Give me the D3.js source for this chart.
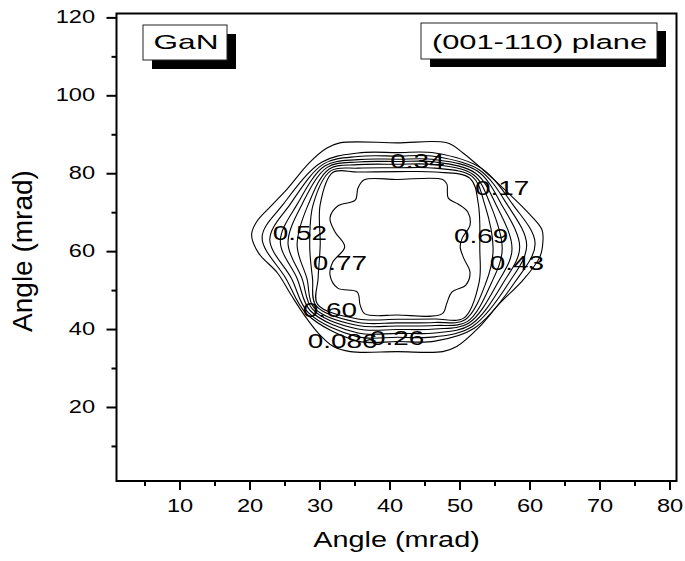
<!DOCTYPE html>
<html>
<head>
<meta charset="utf-8">
<script src="https://cdn.jsdelivr.net/npm/d3@7"></script>
<style>
  body { margin: 0; background: #fff; }
  svg text { font-family: "Liberation Sans", Arial, Helvetica, sans-serif; fill: #000; }
</style>
</head>
<body>
<svg id="chart" width="685" height="561"></svg>
<script>
// Contour levels of the angular distribution, outermost first
const levels = [0.086, 0.17, 0.26, 0.34, 0.43, 0.52, 0.60, 0.69, 0.77];

// Each contour is a closed ring of [x angle, y angle] in mrad
const c086 = [[41.1,87.8],[48.2,87.8],[50.5,85.2],[53.4,80.8],[56.8,75.2],[60.1,69.3],[61.8,65.4],[61.9,62.1],[61.5,58.6],[59.1,52.6],[55.8,46.7],[52.7,40.3],[49.6,35.5],[47.6,34.2],[41.1,34.2],[34.4,34.2],[32.0,35.5],[29.8,39.0],[27.9,43.4],[26.0,48.6],[24.0,54.4],[21.3,59.5],[20.3,64.2],[21.0,67.5],[23.3,72.0],[25.4,76.0],[28.5,82.6],[31.0,86.4],[32.9,87.8]];
const c017 = [[41.1,85.3],[46.5,85.2],[53.1,81.3],[57.6,72.0],[60.8,62.0],[57.9,52.0],[52.1,40.2],[46.5,36.9],[41.1,36.8],[35.5,36.9],[28.2,43.8],[25.2,53.0],[21.8,63.5],[24.8,72.0],[30.3,82.8],[35.5,85.2]];
const c026 = [[41.1,84.4],[46.5,84.3],[52.8,80.9],[56.8,72.0],[59.6,61.5],[57.1,52.0],[51.8,40.6],[46.5,38.0],[41.1,37.9],[35.5,38.0],[28.4,44.2],[26.0,53.0],[22.9,63.0],[25.8,72.0],[30.6,82.4],[35.5,84.3]];
const c034 = [[41.1,83.6],[46.5,83.5],[52.6,80.5],[56.0,72.0],[58.6,61.0],[56.3,52.0],[51.6,41.1],[46.5,39.0],[41.1,38.9],[35.5,39.0],[28.7,44.7],[26.8,53.0],[24.4,62.5],[26.8,72.0],[30.8,81.9],[35.5,83.5]];
const c043 = [[41.1,83.0],[46.5,82.9],[52.3,80.0],[55.2,72.0],[57.5,60.5],[55.5,52.0],[51.3,41.5],[46.5,40.0],[41.1,39.9],[35.5,40.0],[29.0,45.1],[27.5,53.0],[25.5,62.0],[27.5,72.0],[31.1,81.5],[35.5,82.9]];
const c052 = [[41.1,82.3],[46.5,82.2],[52.0,79.6],[54.4,72.0],[56.1,60.5],[54.6,52.0],[51.1,41.9],[46.5,40.9],[41.1,40.8],[35.5,40.9],[29.2,45.5],[28.2,53.0],[26.8,61.5],[28.4,72.0],[31.4,81.1],[35.5,82.2]];
const c060 = [[41.1,81.4],[46.5,81.3],[51.8,79.2],[53.6,72.0],[54.8,60.5],[53.8,52.0],[50.8,42.4],[46.5,41.7],[41.1,41.6],[35.5,41.7],[29.5,46.0],[29.0,53.0],[28.6,61.5],[29.1,72.0],[31.6,80.6],[35.5,81.3]];
const c069 = [[41.1,80.4],[46.5,80.3],[51.5,78.7],[52.7,72.0],[52.9,60.5],[52.8,52.0],[50.6,42.8],[46.5,42.6],[41.1,42.5],[35.5,42.6],[29.7,46.4],[29.8,53.0],[30.1,61.5],[30.1,72.0],[31.9,80.2],[35.5,80.3]];
const c077 = [[41.1,78.4],[47.6,78.4],[48.2,77.2],[48.4,73.6],[49.8,72.1],[51.2,70.0],[51.5,66.7],[50.4,63.4],[50.1,61.1],[50.6,58.2],[51.5,54.6],[50.9,51.3],[48.9,49.5],[48.2,46.7],[47.5,43.9],[41.1,43.6],[36.5,43.9],[35.8,46.2],[35.4,49.5],[32.6,50.5],[31.5,53.9],[31.9,57.2],[33.6,61.1],[32.2,65.0],[31.5,68.5],[32.6,71.6],[35.1,73.1],[35.5,76.2],[36.4,78.3]];
const contourRings = [c086, c017, c026, c034, c043, c052, c060, c069, c077];

// Level labels placed on their lines (mrad)
const labelLevels = [0.34, 0.17, 0.52, 0.69, 0.77, 0.43, 0.60, 0.086, 0.26];
const labelX      = [44.0, 56.1, 27.2, 53.1, 32.9, 58.2, 31.5, 33.3, 41.1];
const labelY      = [83.2, 76.2, 64.7, 64.0, 56.9, 56.9, 44.9, 37.0, 37.7];

// Axes
const xDomain = [1, 81];
const yDomain = [1, 121];
const xMajorTicks = [10, 20, 30, 40, 50, 60, 70, 80];
const xMinorTicks = [5, 15, 25, 35, 45, 55, 65, 75];
const yMajorTicks = [20, 40, 60, 80, 100, 120];
const yMinorTicks = [10, 30, 50, 70, 90, 110];
const xTitle = "Angle (mrad)";
const yTitle = "Angle (mrad)";
const materialTag = "GaN";
const planeTag = "(001-110) plane";

const svg = d3.select("#chart");
const plot = { left: 116.5, right: 676.5, top: 13.5, bottom: 481 };

const x = d3.scaleLinear().domain(xDomain).range([plot.left, plot.right]);
const y = d3.scaleLinear().domain(yDomain).range([plot.bottom, plot.top]);

// Contour lines
const ring = d3.line()
  .x(d => x(d[0]))
  .y(d => y(d[1]))
  .curve(d3.curveCatmullRomClosed.alpha(0.5));

svg.append("g")
  .selectAll("path")
  .data(contourRings)
  .join("path")
  .attr("d", ring)
  .attr("fill", "none")
  .attr("stroke", "#000")
  .attr("stroke-width", 1.1);

// Contour level labels
const fmt = v => (v === 0.086 ? "0.086" : v.toFixed(2));
svg.append("g")
  .selectAll("text")
  .data(labelLevels)
  .join("text")
  .attr("text-anchor", "middle")
  .attr("font-size", 19.5)
  .attr("transform", (d, i) => `translate(${x(labelX[i])},${y(labelY[i]) + 7}) scale(1.43,1)`)
  .text(d => fmt(d));

// Axes: major and minor ticks
const stretch = 1.35;
const xAxis = svg.append("g")
  .attr("transform", `translate(0,${plot.bottom})`)
  .call(d3.axisBottom(x).tickValues(xMajorTicks).tickSize(9).tickSizeOuter(0).tickPadding(9.6));
svg.append("g")
  .attr("transform", `translate(0,${plot.bottom})`)
  .call(d3.axisBottom(x).tickValues(xMinorTicks).tickSize(5).tickSizeOuter(0).tickFormat(""));
const yAxis = svg.append("g")
  .attr("transform", `translate(${plot.left},0)`)
  .call(d3.axisLeft(y).tickValues(yMajorTicks).tickSize(10).tickSizeOuter(0).tickPadding(11.5));
svg.append("g")
  .attr("transform", `translate(${plot.left},0)`)
  .call(d3.axisLeft(y).tickValues(yMinorTicks).tickSize(5).tickSizeOuter(0).tickFormat(""));

svg.selectAll(".domain").remove();
svg.selectAll(".tick line").attr("stroke", "#000").attr("stroke-width", 2);
xAxis.selectAll(".tick text")
  .attr("font-size", 17.5).attr("font-family", null).attr("fill", "#000")
  .attr("transform", `scale(${stretch},1)`);
yAxis.selectAll(".tick text")
  .attr("font-size", 17.5).attr("font-family", null).attr("fill", "#000")
  .attr("x", -21.5 / stretch)
  .attr("transform", `scale(${stretch},1)`);

// Plot frame
svg.append("rect")
  .attr("x", plot.left).attr("y", plot.top)
  .attr("width", plot.right - plot.left).attr("height", plot.bottom - plot.top)
  .attr("fill", "none").attr("stroke", "#000").attr("stroke-width", 2);

// Axis titles
svg.append("text")
  .attr("text-anchor", "middle")
  .attr("font-size", 22)
  .attr("transform", `translate(${(plot.left + plot.right) / 2},546.5) scale(1.31,1)`)
  .text(xTitle);
svg.append("text")
  .attr("text-anchor", "middle")
  .attr("font-size", 28)
  .attr("transform", `translate(32,251) rotate(-90)`)
  .text(yTitle);

// Framed tags with drop shadows
function tag(bx, by, bw, bh, sx, sy, label, fs, sc, tx, ty) {
  const g = svg.append("g");
  g.append("rect").attr("x", bx + sx).attr("y", by + sy).attr("width", bw).attr("height", bh).attr("fill", "#000");
  g.append("rect").attr("x", bx).attr("y", by).attr("width", bw).attr("height", bh)
    .attr("fill", "#fff").attr("stroke", "#222").attr("stroke-width", 1);
  g.append("text").attr("text-anchor", "middle").attr("font-size", fs)
    .attr("transform", `translate(${tx},${ty}) scale(${sc},1)`).text(label);
}
tag(143, 25, 84, 35, 9, 9, materialTag, 20, 1.58, 186, 49.3);
tag(421, 23, 236, 36, 9, 8, planeTag, 19.5, 1.58, 539.5, 49);
</script>
</body>
</html>
